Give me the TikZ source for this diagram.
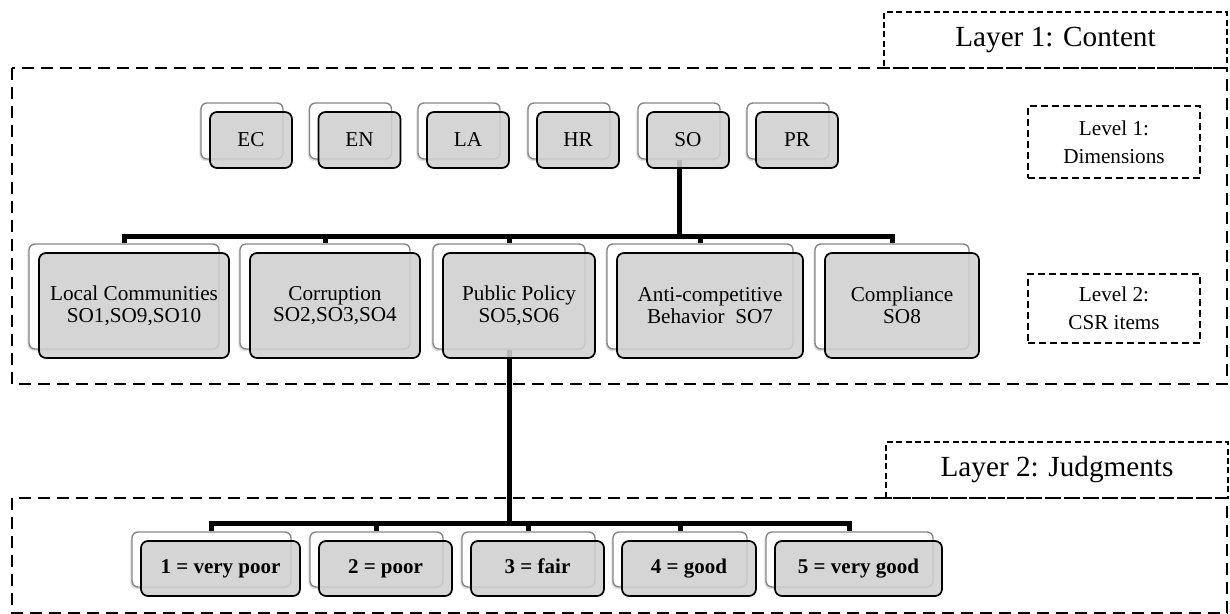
\documentclass[tikz,border=0pt]{standalone}
\usepackage{fontspec}
\setmainfont{Liberation Serif}
\usetikzlibrary{shadows,calc}
\definecolor{backline}{RGB}{135,135,135}
\definecolor{boxfill}{RGB}{208,208,208}
\pgfdeclarelayer{bg}
\pgfsetlayers{bg,main}
\begin{document}
\begin{tikzpicture}[x=0.5pt,y=-0.5pt,
  back/.style={draw=backline, line width=0.7pt, fill=white,
    rounded corners=3pt, inner sep=0pt,
    drop shadow={shadow xshift=-0.8pt, shadow yshift=-1pt, opacity=0.25}},
  front/.style={draw=black, line width=0.85pt, fill=boxfill,
    fill opacity=0.88, text opacity=1, rounded corners=3.5pt, inner sep=0pt,
    align=center, font=\fontsize{10.6}{10.8}\selectfont},
  judge/.style={front, font=\fontsize{10.5}{11}\selectfont\bfseries,
    text height=0.7em, text depth=0.22em},
  sz/.style 2 args={minimum width=#1*0.5pt, minimum height=#2*0.5pt},
  conn/.style={line width=2.5pt, line cap=butt, line join=miter},
  bigdash/.style={draw, line width=0.85pt, dash pattern=on 6pt off 3.5pt},
  leveldash/.style={draw, line width=0.75pt, dash pattern=on 3.5pt off 2pt,
    inner sep=0pt, align=center, font=\fontsize{10.6}{13.8}\selectfont},
  titledash/.style={draw, line width=0.55pt, dash pattern=on 3pt off 1.7pt,
    inner sep=0pt, font=\fontsize{14.6}{16}\selectfont},
]
\useasboundingbox (0,0) rectangle (1230,614);

% layer frames
\draw[bigdash] (12,68) rectangle (1227,384);
\draw[bigdash] (12,498) rectangle (1227,613);
\node[titledash, sz={343}{56}] (layer1) at (1055.5,40) {Layer 1: Content};
\node[titledash, sz={342}{56}] (layer2) at (1057,470) {Layer 2: Judgments};
\node[leveldash, sz={172}{72}] (lev1) at (1114,142) {Level 1:\\Dimensions};
\node[leveldash, sz={172}{69}] (lev2) at (1114,308.5) {Level 2:\\CSR items};

% level 1: dimensions
\foreach \n/\t/\x in {ec/EC/242, en/EN/350.5, la/LA/459, hr/HR/569, so/SO/679, pr/PR/788}{
  \node[back, sz={82}{56}] (\n b) at (\x,131) {};
  \node[front, sz={82}{56}] (\n) at ($(\n b)+(9,9)$) {\t};
}

% level 2: CSR items
\node[back, sz={190}{105}] (lcb) at (124,296.5) {};
\node[front, sz={190}{105}] (lc) at ($(lcb)+(10,9)$) {Local Communities\\SO1,SO9,SO10};
\node[back, sz={170}{105}] (cob) at (325,296.5) {};
\node[front, sz={170}{105}] (co) at ($(cob)+(10,9)$) {Corruption\\SO2,SO3,SO4};
\node[back, sz={152}{105}] (ppb) at (509,296.5) {};
\node[front, sz={152}{105}] (pp) at ($(ppb)+(10,9)$) {Public Policy\\SO5,SO6};
\node[back, sz={186}{105}] (acb) at (700,296.5) {};
\node[front, sz={186}{105}] (ac) at ($(acb)+(10,9)$) {Anti-competitive\\Behavior\ \ SO7};
\node[back, sz={154}{105}] (cmb) at (892,296.5) {};
\node[front, sz={154}{105}] (cm) at ($(cmb)+(10,9)$) {Compliance\\SO8};

% layer 2: judgments
\foreach \n/\t/\x/\w in {j1/{1 = very poor}/211.5/159, j2/{2 = poor}/376.5/133,
    j3/{3 = fair}/528.5/133, j4/{4 = good}/680/134, j5/{5 = very good}/849.5/167}{
  \node[back, sz={\w}{55}] (\n b) at (\x,559.5) {};
  \node[judge, sz={\w}{55}] (\n) at ($(\n b)+(9,9)$) {\t};
}

\coordinate (bar1) at (0,237);
\coordinate (bar2) at (0,523);

\begin{pgfonlayer}{bg}
  \draw[conn] (sob.south) -- (sob.south |- bar1);
  \draw[conn] (lcb.north) -- (lcb.north |- bar1) -- (cmb.north |- bar1) -- (cmb.north);
  \foreach \n in {cob,ppb,acb}{
    \draw[conn] (\n.north) -- (\n.north |- bar1);
  }
  \draw[conn] (ppb.south) -- (ppb.south |- bar2);
  \draw[conn] (j1b.north) -- (j1b.north |- bar2) -- (j5b.north |- bar2) -- (j5b.north);
  \foreach \n in {j2b,j3b,j4b}{
    \draw[conn] (\n.north) -- (\n.north |- bar2);
  }
\end{pgfonlayer}
\end{tikzpicture}
\end{document}
